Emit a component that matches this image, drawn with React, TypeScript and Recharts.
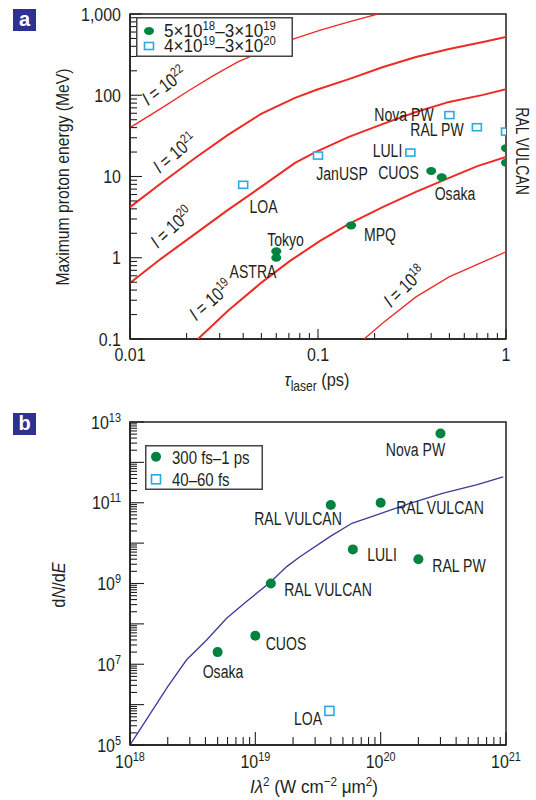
import React from "react";
import { ScatterChart, Scatter, XAxis, YAxis, ReferenceArea, Legend } from "recharts";

const FONT = '"Liberation Sans Narrow", "Arial Narrow", "Liberation Sans", Arial, sans-serif';
const INK = "#231f20";
const RED = "#ee2a24";
const GREEN = "#00833e";
const CYAN = "#29abe2";
const NAVY = "#3b3b98";
const BOX = "#2e3192";

// ---- panel a: laser pulse duration (ps) vs max proton energy (MeV)
const curveI22 = [
  { x: 0.01, y: 40 }, { x: 0.0145, y: 68 }, { x: 0.0204, y: 113 }, { x: 0.0276, y: 173 },
  { x: 0.0375, y: 257 }, { x: 0.0522, y: 361 }, { x: 0.0736, y: 492 }, { x: 0.103, y: 635 },
  { x: 0.146, y: 798 }, { x: 0.208, y: 1000 },
];
const curveI21 = [
  { x: 0.01, y: 4.2 }, { x: 0.015, y: 8.6 }, { x: 0.0222, y: 16.9 }, { x: 0.0332, y: 32.5 },
  { x: 0.0498, y: 58.9 }, { x: 0.0755, y: 92.7 }, { x: 0.0975, y: 116 }, { x: 0.146, y: 158 },
  { x: 0.222, y: 223 }, { x: 0.332, y: 296 }, { x: 0.498, y: 371 }, { x: 0.755, y: 452 }, { x: 1, y: 521 },
];
const curveI20 = [
  { x: 0.01, y: 0.49 }, { x: 0.0146, y: 0.97 }, { x: 0.0222, y: 1.97 }, { x: 0.0332, y: 3.88 },
  { x: 0.0498, y: 7.45 }, { x: 0.0755, y: 14.7 }, { x: 0.0975, y: 20.1 }, { x: 0.146, y: 30.7 },
  { x: 0.222, y: 44.4 }, { x: 0.332, y: 62.3 }, { x: 0.498, y: 82.8 }, { x: 0.755, y: 101 }, { x: 1, y: 119 },
];
const curveI19 = [
  { x: 0.023, y: 0.1 }, { x: 0.0332, y: 0.222 }, { x: 0.0498, y: 0.491 }, { x: 0.071, y: 0.916 },
  { x: 0.1026, y: 1.61 }, { x: 0.146, y: 2.61 }, { x: 0.222, y: 4.23 }, { x: 0.332, y: 6.47 },
  { x: 0.498, y: 9.61 }, { x: 0.71, y: 13.5 }, { x: 1, y: 17.4 },
];
const curveI18 = [
  { x: 0.176, y: 0.1 }, { x: 0.222, y: 0.158 }, { x: 0.332, y: 0.33 }, { x: 0.498, y: 0.582 },
  { x: 0.755, y: 0.891 }, { x: 1, y: 1.18 },
];
const longPulseA = [
  { x: 0.06, y: 1.2 }, { x: 0.06, y: 1.0 }, { x: 0.15, y: 2.5 }, { x: 0.4, y: 11.7 },
  { x: 0.455, y: 9.8 }, { x: 1, y: 22.3 }, { x: 1, y: 14.8 },
];
const shortPulseA = [
  { x: 0.04, y: 7.9 }, { x: 0.1, y: 18.1 }, { x: 0.31, y: 19.7 }, { x: 0.5, y: 57 },
  { x: 0.7, y: 40.4 }, { x: 1, y: 35.7 },
];
const curveLabelsA = [
  { e: 22, x: 168, y: 91, a: -37 },
  { e: 21, x: 179, y: 158, a: -40 },
  { e: 20, x: 176, y: 232, a: -43 },
  { e: 19, x: 215, y: 305, a: -41.5 },
  { e: 18, x: 409, y: 291, a: -44 },
];
const pointLabelsA = [
  { t: "Nova PW", x: 404, y: 114 }, { t: "RAL PW", x: 437, y: 129 }, { t: "LULI", x: 387.5, y: 150 },
  { t: "CUOS", x: 398.5, y: 172 }, { t: "JanUSP", x: 342, y: 173 }, { t: "Osaka", x: 455, y: 193 },
  { t: "LOA", x: 263.5, y: 206 }, { t: "Tokyo", x: 285.5, y: 239 }, { t: "ASTRA", x: 253, y: 271 },
  { t: "MPQ", x: 380, y: 234 },
];

// ---- panel b: I lambda^2 vs dN/dE
const modelB = [
  { x: 1e18, y: 1e5 }, { x: 2e18, y: 2.8e6 }, { x: 2.83e18, y: 1.29e7 }, { x: 4.09e18, y: 4.0e7 },
  { x: 5.9e18, y: 1.38e8 }, { x: 8.5e18, y: 3.56e8 }, { x: 1.33e19, y: 1.11e9 }, { x: 1.78e19, y: 2.62e9 },
  { x: 2.27e19, y: 4.6e9 }, { x: 3.94e19, y: 1.45e10 }, { x: 5.9e19, y: 3.1e10 }, { x: 9.3e19, y: 5.0e10 },
  { x: 1.71e20, y: 9.7e10 }, { x: 3.16e20, y: 1.72e11 }, { x: 5.8e20, y: 2.76e11 }, { x: 9.5e20, y: 4.4e11 },
];
const longPulseB = [
  { x: 3e20, y: 5.2e12 }, { x: 4e19, y: 8.8e10 }, { x: 1e20, y: 1e11 }, { x: 6e19, y: 7e9 },
  { x: 2e20, y: 4e9 }, { x: 1.33e19, y: 1e9 }, { x: 5e18, y: 2e7 }, { x: 1e19, y: 5.1e7 },
];
const shortPulseB = [{ x: 3.9e19, y: 7e5 }];
const pointLabelsB = [
  { t: "Nova PW", x: 415.5, y: 449 }, { t: "RAL VULCAN", x: 298, y: 518 }, { t: "RAL VULCAN", x: 440, y: 507 },
  { t: "LULI", x: 382, y: 554 }, { t: "RAL PW", x: 459, y: 565 }, { t: "RAL VULCAN", x: 328, y: 589 },
  { t: "Osaka", x: 223, y: 671 }, { t: "CUOS", x: 286, y: 643 }, { t: "LOA", x: 308, y: 718 },
];

function decadeTicks(lo: number, hi: number) {
  const out: number[] = [];
  for (let e = lo; e < hi; e++) for (let m = 1; m < 10; m++) out.push(+(m * 10 ** e).toPrecision(3));
  out.push(10 ** hi);
  return out;
}
const tauTicks = decadeTicks(-2, 0);
const energyTicks = decadeTicks(-1, 3);
const intensityTicks = decadeTicks(18, 21);
const yieldTicks = decadeTicks(5, 13);

const isPow10 = (v: number) => Math.abs(Math.log10(v) - Math.round(Math.log10(v))) < 1e-6;
const expOf = (v: number) => Math.round(Math.log10(v));
const TM = 9;

// condensed text: the narrow face is not installed, so squeeze horizontally
function NText(props: {
  x: number; y: number; a?: number; s?: number; size?: number;
  anchor?: "start" | "middle" | "end"; children: React.ReactNode;
}) {
  const { x, y, a = 0, s = 0.74, size = 19, anchor = "middle", children } = props;
  return (
    <text
      transform={`translate(${x},${y}) rotate(${a}) scale(${s},1)`}
      textAnchor={anchor} fontSize={size} fontFamily={FONT} fill={INK}
    >
      {children}
    </text>
  );
}

const pow10Label = (v: number) => (
  <>
    10<tspan dy={-7} fontSize={13}>{expOf(v)}</tspan>
  </>
);

function yTick(major: number, minor: number, label: (v: number) => React.ReactNode) {
  return (p: any) => {
    const v = p.payload.value;
    const big = isPow10(v);
    const ax = p.x + TM;
    const lab = big ? label(v) : null;
    return (
      <g>
        <line x1={ax} x2={ax + (big ? major : minor)} y1={p.y} y2={p.y} stroke={INK} strokeWidth={1.1} />
        {lab != null && (
          <NText x={p.x} y={p.y + 6.5} anchor="end" size={19} s={0.84}>{lab}</NText>
        )}
      </g>
    );
  };
}
function xTick(major: number, minor: number, dy: number, label: (v: number) => React.ReactNode) {
  return (p: any) => {
    const v = p.payload.value;
    const big = isPow10(v);
    const ay = p.y - TM;
    return (
      <g>
        <line x1={p.x} x2={p.x} y1={ay} y2={ay - (big ? major : minor)} stroke={INK} strokeWidth={1.1} />
        {big && (
          <NText x={p.x} y={ay + dy} size={19} s={0.84}>{label(v)}</NText>
        )}
      </g>
    );
  };
}

const GreenDotA = (p: any) => <ellipse cx={p.cx} cy={p.cy} rx={5} ry={4} fill={GREEN} />;
const GreenDotB = (p: any) => <circle cx={p.cx} cy={p.cy} r={5} fill={GREEN} />;
const SquareA = (p: any) => (
  <rect x={p.cx - 4.5} y={p.cy - 3.5} width={9} height={7} fill="#fff" stroke={CYAN} strokeWidth={1.6} />
);
const SquareB = (p: any) => (
  <rect x={p.cx - 4.5} y={p.cy - 4.5} width={9} height={9} fill="#fff" stroke={CYAN} strokeWidth={1.6} />
);
const NoDot = () => <g />;

function LegendA() {
  return (
    <svg width={157} height={40} style={{ display: "block" }}>
      <rect x={0.75} y={0.75} width={155.5} height={38.5} fill="#fff" stroke="#444" strokeWidth={1.5} />
      <ellipse cx={13} cy={14} rx={5} ry={4} fill={GREEN} />
      <rect x={8.5} y={25.5} width={9} height={7} fill="#fff" stroke={CYAN} strokeWidth={1.6} />
      <NText x={28} y={20} anchor="start" size={18} s={0.95}>
        5×10<tspan dy={-7} fontSize={12}>18</tspan>
        <tspan dy={7}>–3×10</tspan>
        <tspan dy={-7} fontSize={12}>19</tspan>
      </NText>
      <NText x={28} y={35} anchor="start" size={18} s={0.95}>
        4×10<tspan dy={-7} fontSize={12}>19</tspan>
        <tspan dy={7}>–3×10</tspan>
        <tspan dy={-7} fontSize={12}>20</tspan>
      </NText>
    </svg>
  );
}
function LegendB() {
  return (
    <svg width={118} height={45} style={{ display: "block" }}>
      <rect x={0.75} y={0.75} width={116.5} height={43.5} fill="#fff" stroke="#444" strokeWidth={1.5} />
      <circle cx={11} cy={11.7} r={5} fill={GREEN} />
      <rect x={6.5} y={29.8} width={9} height={9} fill="#fff" stroke={CYAN} strokeWidth={1.6} />
      <NText x={27} y={18.5} anchor="start" size={19} s={0.79}>300 fs–1 ps</NText>
      <NText x={27} y={41} anchor="start" size={19} s={0.79}>40–60 fs</NText>
    </svg>
  );
}

const PanelTag = ({ t, top }: { t: string; top: number }) => (
  <div
    style={{
      position: "absolute", left: 13, top, width: 23, height: 22, background: BOX, color: "#fff",
      fontFamily: "Liberation Sans, Arial, sans-serif", fontWeight: "bold", fontSize: 20,
      lineHeight: "21px", textAlign: "center",
    }}
  >
    {t}
  </div>
);

export default function App() {
  return (
    <div style={{ position: "absolute", left: 0, top: 0, width: 536, height: 800, background: "#fff" }}>
      {/* panel a */}
      <div style={{ position: "absolute", left: 0, top: 0, width: 536, height: 400 }}>
        <ScatterChart width={536} height={400} margin={{ top: 14, right: 30, bottom: 0, left: 0 }}>
          <XAxis
            type="number" dataKey="x" scale="log" domain={[0.01, 1]} ticks={tauTicks} interval={0}
            allowDataOverflow height={61} tickSize={0} tickMargin={TM} tickLine={false}
            axisLine={{ stroke: INK, strokeWidth: 1.5 }}
            tick={xTick(10, 6, 22, (v) => String(v))}
          />
          <YAxis
            type="number" dataKey="y" scale="log" domain={[0.1, 1000]} ticks={energyTicks} interval={0}
            allowDataOverflow width={130} tickSize={0} tickMargin={TM} tickLine={false}
            axisLine={{ stroke: INK, strokeWidth: 1.5 }}
            tick={yTick(12, 7, (v) => (v >= 1000 ? v.toLocaleString("en-US") : String(v)))}
          />
          <ReferenceArea x1={0.01} x2={1} y1={0.1} y2={1000} fill="none" stroke={INK} strokeWidth={1.5} />
          <Scatter data={curveI22} line={{ stroke: RED, strokeWidth: 1.3 }} shape={NoDot} legendType="none" isAnimationActive={false} />
          <Scatter data={curveI21} line={{ stroke: RED, strokeWidth: 2 }} shape={NoDot} legendType="none" isAnimationActive={false} />
          <Scatter data={curveI20} line={{ stroke: RED, strokeWidth: 2 }} shape={NoDot} legendType="none" isAnimationActive={false} />
          <Scatter data={curveI19} line={{ stroke: RED, strokeWidth: 2 }} shape={NoDot} legendType="none" isAnimationActive={false} />
          <Scatter data={curveI18} line={{ stroke: RED, strokeWidth: 1.3 }} shape={NoDot} legendType="none" isAnimationActive={false} />
          <Scatter name="5e18-3e19" data={longPulseA} shape={GreenDotA} fill={GREEN} isAnimationActive={false} />
          <Scatter name="4e19-3e20" data={shortPulseA} shape={SquareA} fill={CYAN} isAnimationActive={false} />
          <Legend
            layout="horizontal" verticalAlign="middle" align="center"
            wrapperStyle={{ left: 136, top: 17, width: 157, height: 40 }}
            content={() => <LegendA />}
          />
        </ScatterChart>
        <svg width={536} height={400} style={{ position: "absolute", left: 0, top: 0, pointerEvents: "none" }}>
          {curveLabelsA.map((c) => (
            <NText key={c.e} x={c.x} y={c.y} a={c.a} s={0.8} size={19}>
              <tspan fontStyle="italic">I</tspan> = 10<tspan dy={-7} fontSize={13}>{c.e}</tspan>
            </NText>
          ))}
          {pointLabelsA.map((l) => (
            <NText key={l.t} x={l.x} y={l.y + 6.5}>{l.t}</NText>
          ))}
          <NText x={523} y={151} a={90}><tspan dy={6.5}>RAL VULCAN</tspan></NText>
          <NText x={62} y={177} a={-90} size={19} s={0.83}><tspan dy={6.5}>Maximum proton energy (MeV)</tspan></NText>
          <NText x={317} y={386} size={19} s={0.86}>
            <tspan fontStyle="italic">τ</tspan>
            <tspan dy={5} fontSize={14}>laser</tspan>
            <tspan dy={-5}> (ps)</tspan>
          </NText>
        </svg>
        <PanelTag t="a" top={9} />
      </div>

      {/* panel b */}
      <div style={{ position: "absolute", left: 0, top: 400, width: 536, height: 400 }}>
        <ScatterChart width={536} height={400} margin={{ top: 22, right: 30, bottom: 0, left: 0 }}>
          <XAxis
            type="number" dataKey="x" scale="log" domain={[1e18, 1e21]} ticks={intensityTicks} interval={0}
            allowDataOverflow height={55} tickSize={0} tickMargin={TM} tickLine={false}
            axisLine={{ stroke: INK, strokeWidth: 1.5 }}
            tick={xTick(13, 8, 23, pow10Label)}
          />
          <YAxis
            type="number" dataKey="y" scale="log" domain={[1e5, 1e13]} ticks={yieldTicks} interval={0}
            allowDataOverflow width={130} tickSize={0} tickMargin={TM} tickLine={false}
            axisLine={{ stroke: INK, strokeWidth: 1.5 }}
            tick={yTick(14, 7, (v) => (expOf(v) % 2 !== 0 ? pow10Label(v) : null))}
          />
          <ReferenceArea x1={1e18} x2={1e21} y1={1e5} y2={1e13} fill="none" stroke={INK} strokeWidth={1.5} />
          <Scatter data={modelB} line={{ stroke: NAVY, strokeWidth: 1.3 }} shape={NoDot} legendType="none" isAnimationActive={false} />
          <Scatter name="300 fs-1 ps" data={longPulseB} shape={GreenDotB} fill={GREEN} isAnimationActive={false} />
          <Scatter name="40-60 fs" data={shortPulseB} shape={SquareB} fill={CYAN} isAnimationActive={false} />
          <Legend
            layout="horizontal" verticalAlign="middle" align="center"
            wrapperStyle={{ left: 145, top: 45, width: 118, height: 45 }}
            content={() => <LegendB />}
          />
        </ScatterChart>
        <svg width={536} height={400} style={{ position: "absolute", left: 0, top: 0, pointerEvents: "none" }}>
          {pointLabelsB.map((l, i) => (
            <NText key={i} x={l.x} y={l.y - 400 + 6.5}>{l.t}</NText>
          ))}
          <NText x={58} y={185} a={-90} size={19} s={0.86}>
            <tspan dy={6.5}>d</tspan><tspan fontStyle="italic">N</tspan>/d<tspan fontStyle="italic">E</tspan>
          </NText>
          <NText x={314} y={393} size={19} s={0.9}>
            <tspan fontStyle="italic">Iλ</tspan>
            <tspan dy={-7} fontSize={13}>2</tspan>
            <tspan dy={7}> (W cm</tspan>
            <tspan dy={-7} fontSize={13}>−2</tspan>
            <tspan dy={7}> μm</tspan>
            <tspan dy={-7} fontSize={13}>2</tspan>
            <tspan dy={7}>)</tspan>
          </NText>
        </svg>
        <PanelTag t="b" top={13} />
      </div>
    </div>
  );
}
